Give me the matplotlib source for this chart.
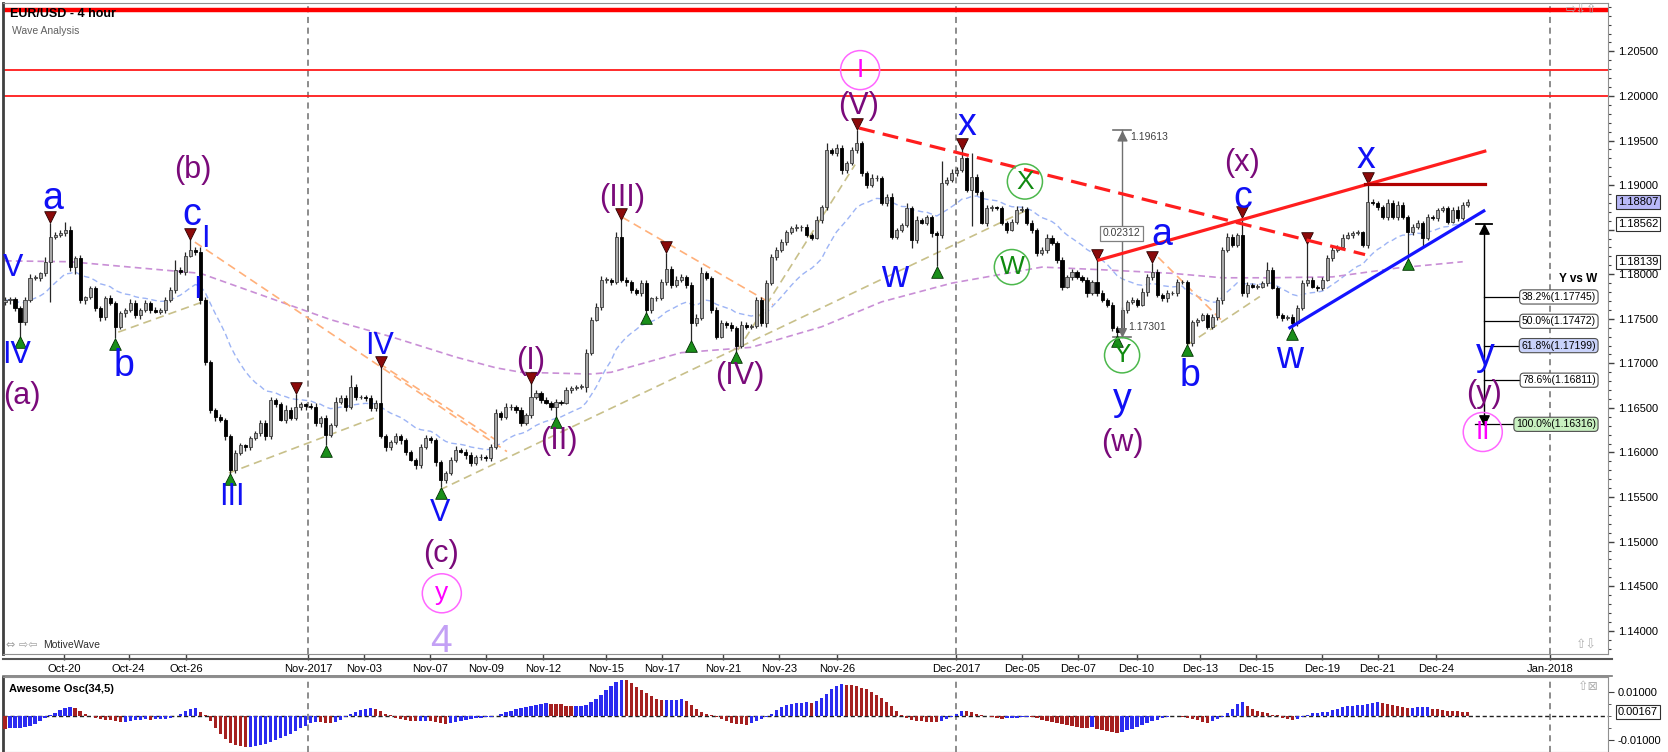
import numpy as np
import pandas as pd
import matplotlib.pyplot as plt
from matplotlib.lines import Line2D

plt.rcParams['font.family'] = ['Liberation Sans', 'DejaVu Sans']

# ---------------- data ----------------
first_open = 1.1769
closes = [
    1.1771, 1.1772, 1.1762, 1.1746, 1.1771, 1.1796, 1.1796, 1.1801, 1.1814, 1.1842,
    1.1844, 1.1846, 1.1850, 1.1808, 1.1818, 1.1771, 1.1774, 1.1784, 1.1762, 1.1752,
    1.1773, 1.1768, 1.1741, 1.1756, 1.1760, 1.1768, 1.1754, 1.1760, 1.1768, 1.1760,
    1.1758, 1.1760, 1.1771, 1.1782, 1.1805, 1.1802, 1.1821, 1.1827, 1.1825, 1.1771,
    1.1701, 1.1648, 1.1640, 1.1637, 1.1618, 1.1580, 1.1599, 1.1608, 1.1606, 1.1616,
    1.1622, 1.1633, 1.1618, 1.1659, 1.1654, 1.1637, 1.1648, 1.1639, 1.1651, 1.1654,
    1.1652, 1.1651, 1.1633, 1.1639, 1.1620, 1.1631, 1.1657, 1.1661, 1.1651, 1.1674,
    1.1662, 1.1662, 1.1661, 1.1650, 1.1656, 1.1618, 1.1606, 1.1612, 1.1618, 1.1614,
    1.1600, 1.1592, 1.1586, 1.1606, 1.1616, 1.1614, 1.1589, 1.1569, 1.1577, 1.1592,
    1.1603, 1.1601, 1.1597, 1.1588, 1.1595, 1.1595, 1.1594, 1.1606, 1.1644, 1.1640,
    1.1651, 1.1651, 1.1648, 1.1633, 1.1642, 1.1662, 1.1667, 1.1659, 1.1656, 1.1651,
    1.1657, 1.1656, 1.1670, 1.1672, 1.1674, 1.1674, 1.1712, 1.1749, 1.1763, 1.1794,
    1.1794, 1.1791, 1.1842, 1.1794, 1.1791, 1.1782, 1.1779, 1.1790, 1.1760, 1.1773,
    1.1773, 1.1791, 1.1806, 1.1788, 1.1794, 1.1797, 1.1788, 1.1745, 1.1751, 1.1801,
    1.1796, 1.1760, 1.1730, 1.1745, 1.1743, 1.1740, 1.1720, 1.1743, 1.1741, 1.1742,
    1.1771, 1.1745, 1.1790, 1.1819, 1.1827, 1.1836, 1.1847, 1.1852, 1.1853, 1.1853,
    1.1844, 1.1841, 1.1861, 1.1875, 1.1939, 1.1936, 1.1942, 1.1917, 1.1925, 1.1939,
    1.1947, 1.1914, 1.1900, 1.1908, 1.1908, 1.1880, 1.1887, 1.1842, 1.1850, 1.1855,
    1.1874, 1.1838, 1.1861, 1.1858, 1.1864, 1.1846, 1.1844, 1.1902, 1.1906, 1.1914,
    1.1917, 1.1930, 1.1895, 1.1909, 1.1892, 1.1858, 1.1874, 1.1875, 1.1874, 1.1858,
    1.1850, 1.1859, 1.1872, 1.1873, 1.1858, 1.1850, 1.1824, 1.1827, 1.1841, 1.1835,
    1.1816, 1.1786, 1.1797, 1.1802, 1.1797, 1.1794, 1.1779, 1.1791, 1.1779, 1.1771,
    1.1766, 1.1740, 1.1735, 1.1760, 1.1769, 1.1771, 1.1766, 1.1780, 1.1797, 1.1803,
    1.1777, 1.1773, 1.1779, 1.1779, 1.1791, 1.1791, 1.1723, 1.1746, 1.1749, 1.1754,
    1.1741, 1.1752, 1.1771, 1.1827, 1.1842, 1.1833, 1.1844, 1.1779, 1.1788, 1.1786,
    1.1786, 1.1790, 1.1805, 1.1785, 1.1754, 1.1751, 1.1752, 1.1745, 1.1762, 1.1790,
    1.1794, 1.1786, 1.1785, 1.1794, 1.1818, 1.1827, 1.1831, 1.1841, 1.1844, 1.1846,
    1.1847, 1.1833, 1.1881, 1.1880, 1.1875, 1.1864, 1.1880, 1.1864, 1.1878, 1.1864,
    1.1847, 1.1853, 1.1857, 1.1841, 1.1864, 1.1863, 1.1872, 1.1874, 1.1859, 1.1872,
    1.1863, 1.1878, 1.18807,
]
# wick lengths beyond the candle body, in pips
upper_wick = [
    3, 2, 3, 2, 3, 4, 3, 2, 5, 16, 3, 4, 9, 4, 3, 4, 2, 3, 3, 2,
    3, 4, 2, 3, 2, 4, 3, 2, 3, 2, 3, 2, 3, 4, 11, 3, 4, 12, 3, 5,
    4, 3, 2, 3, 2, 3, 4, 3, 2, 3, 2, 3, 4, 3, 2, 3, 5, 3, 15, 3,
    2, 3, 4, 2, 3, 2, 5, 3, 4, 13, 3, 2, 3, 4, 3, 40, 3, 2, 4, 3,
    2, 3, 2, 3, 4, 3, 2, 3, 2, 3, 4, 2, 3, 3, 2, 3, 2, 4, 5, 3,
    4, 3, 2, 3, 2, 16, 3, 2, 3, 2, 3, 2, 4, 3, 2, 3, 4, 3, 5, 4,
    3, 2, 5, 20, 3, 2, 3, 4, 3, 2, 3, 4, 18, 3, 4, 3, 2, 3, 4, 7,
    3, 2, 3, 4, 2, 3, 2, 4, 3, 2, 4, 3, 3, 4, 3, 4, 3, 2, 3, 2,
    3, 2, 4, 3, 8, 3, 4, 3, 2, 4, 15, 3, 2, 4, 3, 2, 3, 4, 2, 3,
    6, 3, 4, 2, 3, 2, 3, 25, 3, 4, 3, 10, 2, 27, 3, 2, 4, 3, 2, 3,
    2, 3, 4, 3, 2, 3, 2, 3, 4, 3, 2, 3, 2, 4, 3, 2, 3, 2, 25, 3,
    2, 3, 2, 3, 2, 3, 2, 4, 3, 10, 3, 2, 3, 2, 4, 3, 2, 3, 2, 3,
    2, 3, 4, 3, 4, 3, 2, 20, 3, 2, 3, 2, 9, 3, 2, 3, 2, 3, 4, 3,
    41, 3, 2, 3, 4, 3, 2, 4, 3, 2, 3, 2, 21, 3, 2, 3, 4, 3, 4, 3,
    2, 3, 4, 3, 4, 3, 2, 3, 2, 3, 4, 3, 4,
]
lower_wick = [
    3, 4, 3, 16, 3, 2, 3, 4, 3, 45, 3, 2, 3, 4, 8, 3, 4, 2, 3, 4,
    3, 2, 13, 3, 4, 2, 3, 4, 2, 3, 2, 3, 4, 2, 3, 2, 3, 2, 3, 4,
    3, 4, 5, 3, 4, 4, 3, 2, 4, 3, 2, 3, 4, 3, 3, 2, 4, 3, 2, 3,
    4, 2, 3, 4, 12, 3, 2, 3, 4, 2, 3, 2, 3, 4, 3, 2, 4, 3, 2, 4,
    3, 2, 4, 3, 2, 3, 4, 8, 3, 2, 3, 2, 4, 3, 2, 3, 4, 3, 2, 3,
    2, 3, 4, 3, 2, 3, 2, 3, 2, 3, 11, 3, 2, 3, 2, 3, 6, 3, 2, 3,
    4, 3, 2, 3, 4, 3, 2, 3, 3, 4, 3, 2, 3, 4, 2, 3, 4, 20, 3, 2,
    3, 4, 3, 2, 3, 4, 7, 3, 2, 3, 2, 3, 4, 2, 3, 2, 3, 2, 3, 4,
    2, 3, 2, 3, 3, 2, 3, 4, 3, 2, 3, 4, 3, 2, 3, 2, 4, 3, 2, 3,
    2, 9, 3, 2, 3, 4, 35, 3, 2, 3, 4, 2, 3, 41, 3, 2, 4, 3, 2, 3,
    4, 2, 3, 2, 3, 4, 3, 2, 3, 2, 3, 4, 2, 3, 2, 3, 4, 2, 3, 2,
    3, 4, 4, 2, 3, 2, 3, 2, 4, 3, 2, 3, 4, 2, 3, 2, 2, 3, 4, 2,
    3, 2, 3, 4, 2, 3, 2, 3, 4, 2, 3, 2, 3, 2, 3, 4, 2, 6, 3, 2,
    3, 2, 4, 3, 2, 3, 2, 3, 2, 3, 2, 3, 4, 2, 3, 2, 3, 2, 3, 2,
    29, 3, 2, 10, 3, 2, 3, 2, 3, 2, 3, 2, 3,
]

ao_values = [
    -0.0052, -0.0051, -0.0050, -0.0049, -0.0045, -0.0040, -0.0032, -0.0022, -0.0008,
    0.0005, 0.0014, 0.0025, 0.0032, 0.0037, 0.0033, 0.0020, 0.0008,
    -0.0002, -0.0008, -0.0012, -0.0015, -0.0018, -0.0022, -0.0024,
    -0.0023, -0.0020, -0.0018, -0.0016, -0.0014, -0.0016, -0.0014, -0.0012, -0.0011, -0.0008, -0.0002,
    0.0010, 0.0020, 0.0030, 0.0033, 0.0018,
    0.0003, -0.0020, -0.0050, -0.0075, -0.0095, -0.0110, -0.0120, -0.0125, -0.0128,
    -0.0127, -0.0124, -0.0120, -0.0115, -0.0108, -0.0100, -0.0092, -0.0083, -0.0073, -0.0062, -0.0050, -0.0040,
    -0.0030, -0.0026, -0.0027, -0.0028, -0.0029, -0.0026, -0.0015, -0.0005,
    0.0008, 0.0018, 0.0026, 0.0030, 0.0031, 0.0028, 0.0020, 0.0010, 0.0002,
    -0.0008, -0.0014, -0.0018, -0.0020, -0.0022, -0.0020, -0.0019, -0.0021, -0.0024, -0.0030, -0.0033, -0.0030,
    -0.0025, -0.0020, -0.0016, -0.0012, -0.0009, -0.0007, -0.0005, -0.0003, -0.0001,
    0.0008, 0.0015, 0.0022, 0.0028, 0.0033, 0.0038, 0.0042, 0.0046, 0.0050, 0.0052, 0.0051, 0.0050,
    0.0048, 0.0043, 0.0040, 0.0041, 0.0042, 0.0044,
    0.0058, 0.0072, 0.0086, 0.0106, 0.0123, 0.0141, 0.0148,
    0.0147, 0.0135, 0.0121, 0.0108, 0.0095, 0.0083, 0.0072, 0.0064,
    0.0066, 0.0067, 0.0068, 0.0069,
    0.0060, 0.0045, 0.0030, 0.0018, 0.0008, 0.0002,
    -0.0005, -0.0012, -0.0020, -0.0028, -0.0034, -0.0035, -0.0036,
    -0.0028, -0.0022, -0.0014, -0.0006,
    0.0008, 0.0025, 0.0038, 0.0046, 0.0050, 0.0053, 0.0055, 0.0056, 0.0055,
    0.0062, 0.0075, 0.0090, 0.0110, 0.0125, 0.0131,
    0.0129, 0.0126, 0.0122, 0.0117, 0.0110, 0.0100, 0.0088, 0.0073, 0.0057, 0.0040, 0.0022, 0.0005,
    -0.0008, -0.0016, -0.0020, -0.0022, -0.0024, -0.0025, -0.0027, -0.0022, -0.0012, -0.0004,
    0.0008, 0.0020, 0.0019, 0.0015, 0.0010, 0.0004, -0.0002,
    -0.0006, -0.0010, -0.0012, -0.0010, -0.0008, -0.0007, -0.0006, -0.0004, -0.0006, -0.0010,
    -0.0016, -0.0022, -0.0026, -0.0030, -0.0034, -0.0038, -0.0042, -0.0045, -0.0048, -0.0050,
    -0.0047, -0.0055, -0.0060, -0.0064, -0.0068, -0.0070,
    -0.0066, -0.0060, -0.0053, -0.0045, -0.0037, -0.0029, -0.0022, -0.0015, -0.0010,
    -0.0004, -0.0002, -0.0002, -0.0004,
    -0.0008, -0.0013, -0.0018, -0.0024, -0.0030, -0.0022, -0.0012, -0.0004,
    0.0012, 0.0030, 0.0048, 0.0058,
    0.0040, 0.0030, 0.0022, 0.0016, 0.0011, 0.0006, 0.0002,
    -0.0008, -0.0014, -0.0018, -0.0012, -0.0006,
    0.0004, 0.0012, 0.0014, 0.0015, 0.0018, 0.0024, 0.0030, 0.0036, 0.0040, 0.0043,
    0.0045, 0.0047, 0.0050, 0.0053, 0.0056,
    0.0054, 0.0050, 0.0046, 0.0041,
    0.0035, 0.0033, 0.0034, 0.0035, 0.0036, 0.0037,
    0.0030, 0.0027, 0.0024, 0.0022, 0.0020, 0.0019, 0.0018, 0.00167,
]

slow_ma_bars = [0, 13, 39, 59, 65, 77, 90, 98, 103, 117, 121, 135, 149, 163, 175, 189,
                207, 219, 233, 243, 252, 265, 278, 291]
slow_ma_vals = [1.1815, 1.1814, 1.1801, 1.1761, 1.1749, 1.1730, 1.1707, 1.1695, 1.1690,
                1.1688, 1.1690, 1.1712, 1.1718, 1.1741, 1.1769, 1.1790, 1.1808, 1.1805,
                1.1801, 1.1796, 1.1796, 1.1797, 1.1807, 1.1814]

date_labels = ['Oct-20', 'Oct-24', 'Oct-26', 'Nov-2017', 'Nov-03', 'Nov-07', 'Nov-09',
               'Nov-12', 'Nov-15', 'Nov-17', 'Nov-21', 'Nov-23', 'Nov-26', 'Dec-2017',
               'Dec-05', 'Dec-07', 'Dec-10', 'Dec-13', 'Dec-15', 'Dec-19', 'Dec-21',
               'Dec-24', 'Jan-2018']
date_bars = [11.8, 24.7, 36.1, 60.5, 71.7, 84.8, 96.0, 107.4, 120.0, 131.2, 143.3,
             154.5, 166.1, 189.9, 203.0, 214.2, 225.9, 238.5, 249.7, 262.9, 274.0,
             285.6, 308.4]
month_bars = [60.5, 189.9, 308.4]

resistance_levels = [1.2096, 1.2029, 1.2000]

pivot_highs = [9, 37, 58, 75, 105, 123, 132, 170, 191, 218, 229, 247, 260, 272]
pivot_lows = [3, 22, 45, 64, 87, 110, 128, 137, 146, 186, 222, 236, 257, 280]

blue_text = ['a', 'V', 'IV', 'b', 'c', 'I', 'I', 'III', 'IV', 'V', 'w', 'x', 'y',
             'a', 'b', 'c', 'w', 'x', 'y']
blue_bar = [9.6, 1.6, 2.4, 23.8, 37.3, 39.9, 38.5, 45.3, 74.7, 86.8, 177.6, 192.0, 223.0,
            230.9, 236.5, 247.1, 256.5, 271.7, 295.4]
blue_price = [1.1884, 1.1807, 1.1709, 1.1697, 1.1866, 1.1840, 1.1782, 1.1550, 1.1720,
              1.1532, 1.1797, 1.1967, 1.1659, 1.1844, 1.1686, 1.1885, 1.1706, 1.1930, 1.1709]

purple_text = ['(a)', '(b)', '(c)', '(I)', '(II)', '(III)', '(IV)', '(V)', '(w)', '(x)', '(y)']
purple_bar = [3.4, 37.5, 87.0, 105.0, 110.6, 123.2, 146.7, 170.3, 223.0, 246.9, 295.2]
purple_price = [1.1663, 1.1917, 1.1486, 1.1703, 1.1613, 1.1886, 1.1686, 1.1989, 1.1611,
                1.1925, 1.1666]

pink_text = ['I', 'y', 'II']
pink_bar = [170.7, 87.2, 295.0]
pink_price = [1.2029, 1.1442, 1.1623]

green_text = ['X', 'W', 'Y']
green_bar = [203.6, 201.0, 223.0]
green_price = [1.1904, 1.1808, 1.1709]

# trend lines: (bar0, price0, bar1, price1)
orange_lines = [(37.9, 1.1836, 100.2, 1.1601), (74.7, 1.1700, 98.8, 1.1611),
                (123.2, 1.1864, 153.3, 1.1766), (230.2, 1.1819, 243.1, 1.1747)]
khaki_lines = [(22.6, 1.1735, 40.5, 1.1771), (44.7, 1.1577, 74.3, 1.1640),
               (86.8, 1.1558, 204.0, 1.1872), (146.3, 1.1715, 169.7, 1.1923),
               (236.1, 1.1721, 250.5, 1.1775)]
red_dashed = (170.5, 1.1964, 271.5, 1.1822)
red_rising = (218.4, 1.1816, 295.4, 1.1938)
red_flat = (271.5, 1.1901, 295.4, 1.1901)
blue_support = (256.5, 1.1740, 295.2, 1.1871)

ruler_bar = 223.0
ruler_top, ruler_bottom = 1.19613, 1.17301

fib_bar = 295.2
fib_top = 1.18562
fib_labels = ['38.2%(1.17745)', '50.0%(1.17472)', '61.8%(1.17199)', '78.6%(1.16811)',
              '100.0%(1.16316)']
fib_prices = [1.17745, 1.17472, 1.17199, 1.16811, 1.16316]
fib_fills = ['white', 'white', '#c9d2fa', 'white', '#c8f0c0']

axis_marks = [1.18807, 1.18562, 1.18139]
axis_mark_fills = ['#b8b8f8', 'white', 'white']

# ---------------- derived candle arrays ----------------
c = np.array(closes)
n = len(c)
x = np.arange(n)
o = np.r_[first_open, c[:-1]]
hi = np.maximum(o, c) + np.array(upper_wick) * 1e-4
lo = np.minimum(o, c) - np.array(lower_wick) * 1e-4
bull = c >= o
body = np.maximum(np.abs(c - o), 0.00004)
fast_ma = pd.Series(c).ewm(span=21, adjust=False).mean()

W, H = 1668, 752
fig = plt.figure(figsize=(W / 100, H / 100), dpi=100)
ax = fig.add_axes([3 / W, 98 / H, 1605 / W, 651 / H])
osc = fig.add_axes([3 / W, 0, 1605 / W, 75 / H])

xmin, xmax = -0.4, 320.0
ax.set_xlim(xmin, xmax)
ax.set_ylim(1.13739, 1.21043)

for b in month_bars:
    ax.axvline(b, color='#6e6e6e', ls=(0, (4, 3)), lw=1.1, zorder=1)
    osc.axvline(b, color='#6e6e6e', ls=(0, (4, 3)), lw=1.1, zorder=1)

ax.axhline(resistance_levels[0], color='#ff0000', lw=3.2, zorder=2)
for lvl in resistance_levels[1:]:
    ax.axhline(lvl, color='#ff1a1a', lw=1.3, zorder=2)

# moving averages
ax.plot(x, fast_ma, color='#9db4f5', lw=1.0, ls=(0, (4, 2.5)), zorder=2)
ax.plot(slow_ma_bars, slow_ma_vals, color='#c98fd6', lw=1.2, ls=(0, (4, 2.5)), zorder=2)

for b0, p0, b1, p1 in orange_lines:
    ax.plot([b0, b1], [p0, p1], color='#ffb07a', lw=1.2, ls=(0, (5, 3)), zorder=2)
for b0, p0, b1, p1 in khaki_lines:
    ax.plot([b0, b1], [p0, p1], color='#c8c08a', lw=1.2, ls=(0, (5, 3)), zorder=2)

# candles
ax.vlines(x, lo, hi, color='#262626', lw=0.9, zorder=3)
ax.bar(x[bull], body[bull], bottom=o[bull], width=0.62, color='#a6a6a6',
       edgecolor='#3a3a3a', lw=0.6, zorder=4)
ax.bar(x[~bull], body[~bull], bottom=c[~bull], width=0.62, color='black',
       edgecolor='black', lw=0.6, zorder=4)

# pivot markers
ax.scatter(x[pivot_highs], hi[pivot_highs] + 0.0006, marker='v', s=70,
           color='#8b0a0a', edgecolor='#2a0000', lw=0.6, zorder=6)
ax.scatter(x[pivot_lows], lo[pivot_lows] - 0.0006, marker='^', s=70,
           color='#1a8f1a', edgecolor='#003000', lw=0.6, zorder=6)

# trend lines
b0, p0, b1, p1 = red_dashed
ax.plot([b0, b1], [p0, p1], color='#ff1e1e', lw=2.3, ls=(0, (5, 2.6)), zorder=7)
b0, p0, b1, p1 = red_rising
ax.plot([b0, b1], [p0, p1], color='#ff1e1e', lw=2.3, zorder=7)
b0, p0, b1, p1 = red_flat
ax.plot([b0, b1], [p0, p1], color='#b00000', lw=2.3, zorder=7)
b0, p0, b1, p1 = blue_support
ax.plot([b0, b1], [p0, p1], color='#1414ff', lw=2.3, zorder=7)

# ruler
ax.plot([ruler_bar, ruler_bar], [ruler_bottom, ruler_top], color='#707070', lw=1, zorder=5)
for p in (ruler_top, ruler_bottom):
    ax.plot([ruler_bar - 1.8, ruler_bar + 1.8], [p, p], color='#707070', lw=1.2, zorder=5)
ax.scatter([ruler_bar], [ruler_top - 0.0006], marker='^', s=40, color='#707070', zorder=5)
ax.scatter([ruler_bar], [ruler_bottom + 0.0005], marker='v', s=30, color='#707070', zorder=5)
ax.text(ruler_bar + 1.6, 1.1954, f'{ruler_top:.5f}', fontsize=7.5, color='#404040',
        va='center', ha='left', zorder=8)
ax.text(ruler_bar + 1.2, 1.1741, f'{ruler_bottom:.5f}', fontsize=7.5, color='#404040',
        va='center', ha='left', zorder=8)
ax.text(ruler_bar - 0.2, 1.1846, f'{ruler_top - ruler_bottom:.5f}', fontsize=7.5,
        color='#404040', va='center', ha='center', zorder=8,
        bbox=dict(boxstyle='square,pad=0.25', fc='white', ec='#808080', lw=0.9))

# fib projection
ax.plot([fib_bar, fib_bar], [fib_prices[-1], fib_top], color='black', lw=1, zorder=5)
ax.plot([fib_bar - 1.6, fib_bar + 1.6], [fib_top, fib_top], color='black', lw=1.3, zorder=5)
ax.scatter([fib_bar], [fib_top - 0.0006], marker='^', s=45, color='black', zorder=5)
ax.scatter([fib_bar], [fib_prices[-1] + 0.0005], marker='v', s=45, color='black', zorder=5)
for lab, p, fc in zip(fib_labels, fib_prices, fib_fills):
    start = fib_bar - 1.8 if p == fib_prices[-1] else fib_bar
    ax.plot([start, 304.0], [p, p], color='black', lw=0.9, zorder=5)
    ax.text(317.6, p, lab, fontsize=7.5, ha='right', va='center', zorder=8,
            bbox=dict(boxstyle='round,pad=0.2,rounding_size=0.35', fc=fc, ec='#505050', lw=0.8))
ax.text(317.9, 1.1795, 'Y vs W', fontsize=8.5, fontweight='bold', ha='right', va='center',
        zorder=8)

# wave labels
for t, b, p in zip(blue_text, blue_bar, blue_price):
    size = 22 if t.upper() == t else 27
    ax.text(b, p, t, color='#1010f5', fontsize=size, ha='center', va='center', zorder=9)
for t, b, p in zip(purple_text, purple_bar, purple_price):
    ax.text(b, p, t, color='#7a0a7a', fontsize=22, ha='center', va='center', zorder=9)
for t, b, p in zip(pink_text, pink_bar, pink_price):
    ax.scatter([b], [p], s=790, facecolors='none', edgecolors='#ff66ff', lw=1.1, zorder=9)
    ax.text(b, p, t, color='#ff00ff', fontsize=19, ha='center', va='center', zorder=9)
for t, b, p in zip(green_text, green_bar, green_price):
    ax.scatter([b], [p], s=640, facecolors='none', edgecolors='#4cb84c', lw=1.1, zorder=9)
    ax.text(b, p, t, color='#108a10', fontsize=19, ha='center', va='center', zorder=9)
ax.text(87.0, 1.1387, '4', color='#c3a0f5', fontsize=28, ha='center', va='center', zorder=9)

# axes styling
ax.yaxis.tick_right()
major = np.arange(1.140, 1.2051, 0.005)
ax.set_yticks(major)
# the 1.18500 label sits under the 1.18562 marker box in the original
ax.set_yticklabels(['' if abs(v - 1.185) < 1e-6 else f'{v:.5f}' for v in major])
ax.set_yticks(np.arange(1.138, 1.2101, 0.001), minor=True)
ax.tick_params(axis='y', which='major', length=4, width=1, color='#404040', labelsize=8, pad=3)
ax.tick_params(axis='y', which='minor', length=2, width=0.8, color='#404040')
ax.set_xticks(date_bars)
ax.set_xticklabels(date_labels)
ax.tick_params(axis='x', length=4, width=1, color='#404040', labelsize=8, pad=3)
for s in ax.spines.values():
    s.set_color('#909090')
ax.spines['left'].set_color('#404040')
ax.spines['left'].set_linewidth(2)

tf = ax.get_yaxis_transform()
for val, fc in zip(axis_marks, axis_mark_fills):
    ax.text(1.006, val, f'{val:.5f}', transform=tf, fontsize=8, ha='left', va='center',
            clip_on=False, zorder=10,
            bbox=dict(boxstyle='square,pad=0.18', fc=fc, ec='#303030', lw=0.8))

# oscillator
ao = np.array(ao_values)
rising = np.r_[False, ao[1:] > ao[:-1]]
osc.bar(x[rising], ao[rising], width=0.66, color='#2b2bf0', zorder=3)
osc.bar(x[~rising], ao[~rising], width=0.66, color='#a52020', zorder=3)
osc.axhline(0, color='#202020', lw=1, ls=(0, (3, 2)), zorder=2)
osc.set_xlim(xmin, xmax)
osc.set_ylim(-0.0149, 0.0161)
osc.set_xticks([])
osc.yaxis.tick_right()
osc.set_yticks([0.01, -0.01])
osc.set_yticklabels(['0.01000', '-0.01000'])
osc.set_yticks([0.005, 0.0, -0.005], minor=True)
osc.tick_params(axis='y', which='major', length=4, color='#404040', labelsize=8, pad=3)
osc.tick_params(axis='y', which='minor', length=2, color='#404040')
for s in osc.spines.values():
    s.set_color('#909090')
osc.spines['left'].set_color('#404040')
osc.spines['left'].set_linewidth(2)
osc.text(1.006, ao[-1], f'{ao[-1]:.5f}', transform=osc.get_yaxis_transform(), fontsize=8,
         ha='left', va='center', clip_on=False, zorder=10,
         bbox=dict(boxstyle='square,pad=0.18', fc='white', ec='#303030', lw=0.8))
osc.text(0.004, 0.84, 'Awesome Osc(34,5)', transform=osc.transAxes, fontsize=8,
         fontweight='bold', va='center')

# frame lines and captions
fig.add_artist(Line2D([3 / W, 1612 / W], [1 - 659 / H] * 2, color='#555555', lw=1.5))
fig.add_artist(Line2D([3 / W, 1612 / W], [1 - 676 / H] * 2, color='#777777', lw=1.2))
fig.text(10 / W, 1 - 14 / H, 'EUR/USD - 4 hour', fontsize=9, fontweight='bold', va='center')
fig.text(12 / W, 1 - 31 / H, 'Wave Analysis', fontsize=7.5, color='#606060', va='center')
fig.text(1566 / W, 1 - 10 / H, '\u21e8\u21e9\u21e7', family=['DejaVu Sans'], fontsize=9,
         color='#b0b0b0', va='center')
fig.text(1576 / W, 1 - 645 / H, '\u21e7\u21e9', family=['DejaVu Sans'], fontsize=9,
         color='#b0b0b0', va='center')
fig.text(1578 / W, 1 - 686 / H, '\u21e7\u22a0', family=['DejaVu Sans'], fontsize=9,
         color='#b0b0b0', va='center')
fig.text(6 / W, 1 - 645 / H, '\u21d4 \u21e8\u21e6', family=['DejaVu Sans'], fontsize=8,
         color='#a0a0a0', va='center')
fig.text(43 / W, 1 - 645 / H, 'MotiveWave', fontsize=7.5, color='#303030', va='center')

fig.savefig('out.png', dpi=100)
